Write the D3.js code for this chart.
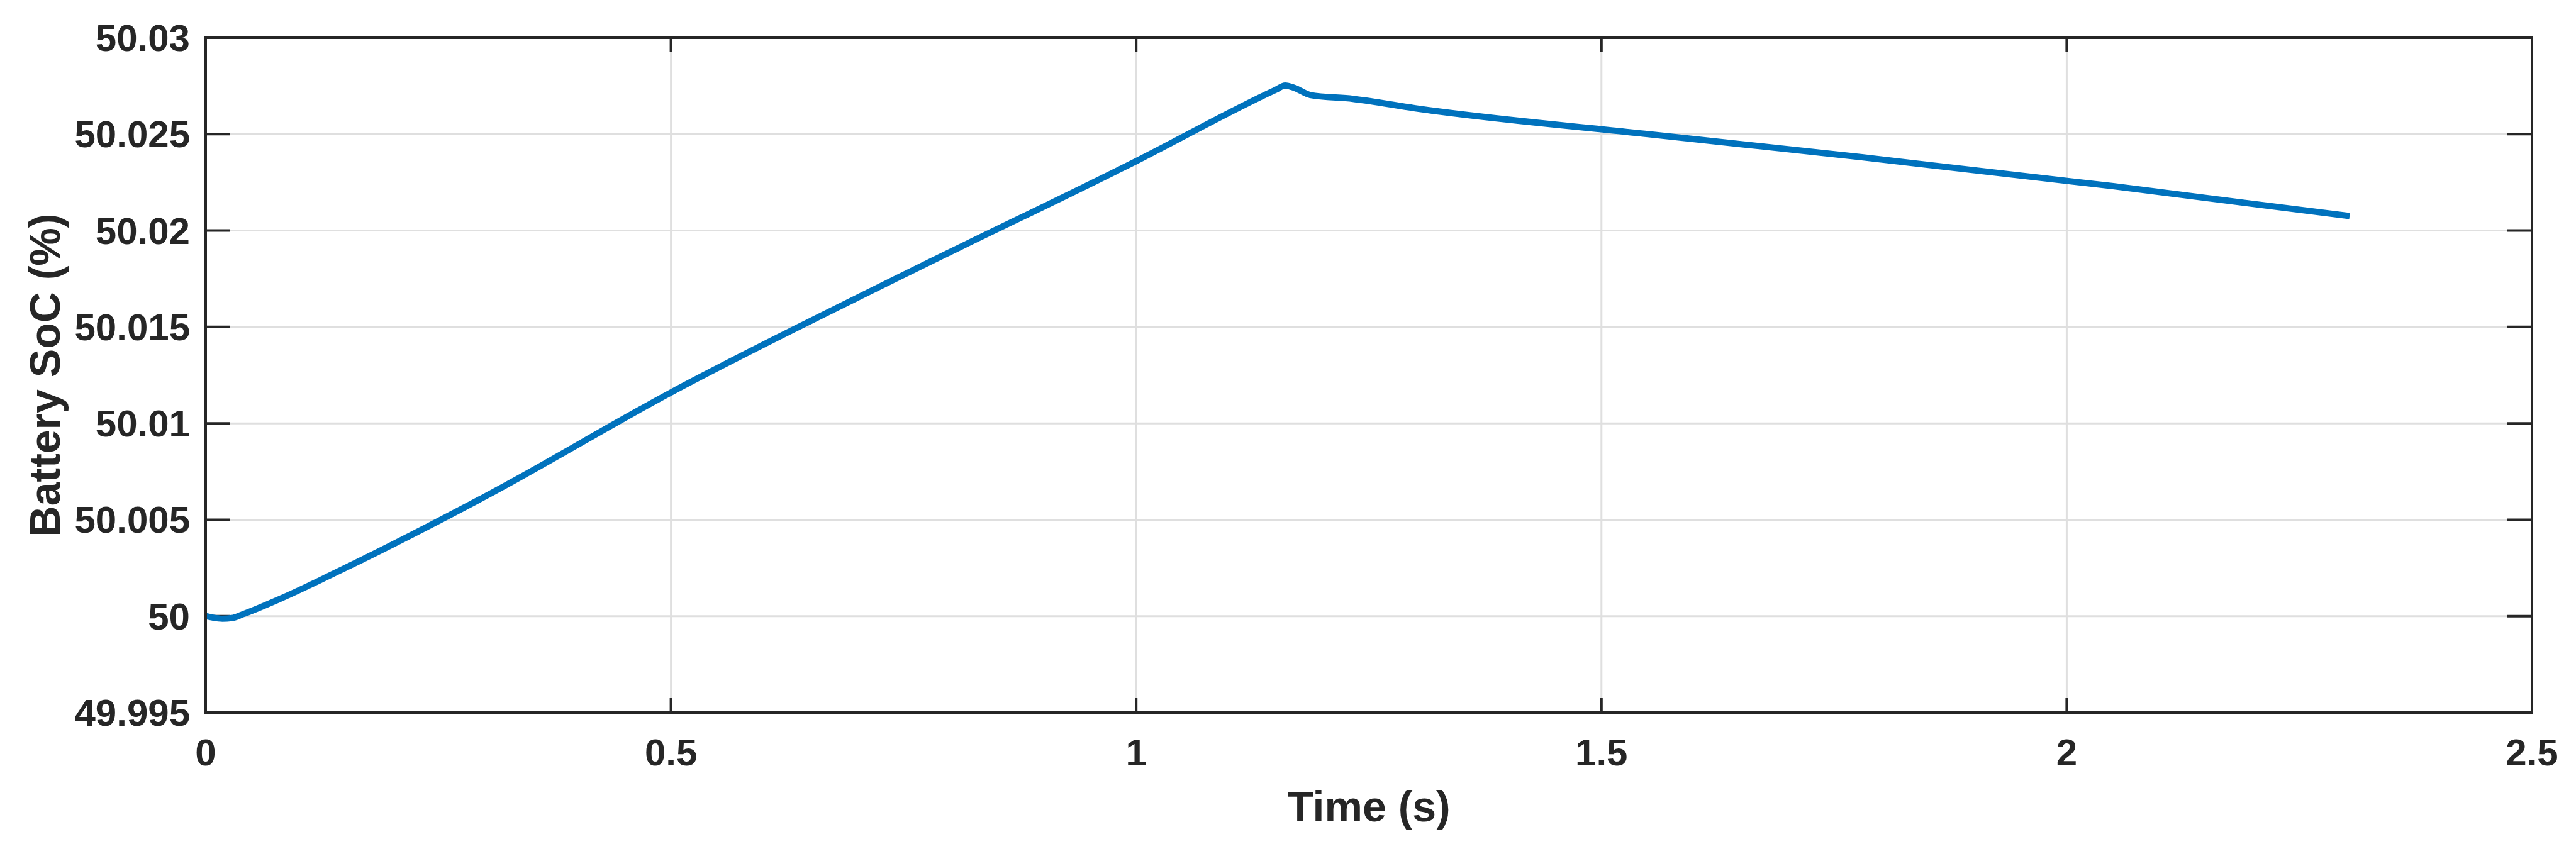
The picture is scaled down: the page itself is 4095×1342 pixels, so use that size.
<!DOCTYPE html>
<html>
<head>
<meta charset="utf-8">
<script src="https://cdn.jsdelivr.net/npm/d3@7"></script>
<style>
  body { margin: 0; background: #fff; }
  text { font-family: "Liberation Sans", Arial, sans-serif; font-weight: bold; fill: #262626; }
</style>
</head>
<body>
<script>
// data
var timeS = [0, 0.008, 0.018, 0.028, 0.04, 0.08, 0.15, 0.3, 0.5, 0.75, 1.0, 1.15, 1.16, 1.17, 1.187, 1.233, 1.3, 1.55, 1.78, 2.05, 2.304];
var socPct = [50.0000, 49.99992, 49.99987, 49.99990, 50.0001, 50.0009, 50.0025, 50.0062, 50.0116, 50.0177, 50.0236, 50.0273, 50.02752, 50.02740, 50.02703, 50.02683, 50.02634, 50.0250, 50.0238, 50.0223, 50.02075];
var xTicks = [0, 0.5, 1, 1.5, 2, 2.5];
var yTicks = [49.995, 50, 50.005, 50.01, 50.015, 50.02, 50.025, 50.03];

var width = 4095;
var height = 1342;
var pLeft = 327, pRight = 4025, pTop = 60, pBottom = 1133;

var svg = d3.select("body").append("svg")
    .attr("width", width)
    .attr("height", height);

var x = d3.scaleLinear().domain([0, 2.5]).range([pLeft, pRight]);
var y = d3.scaleLinear().domain([49.995, 50.03]).range([pBottom, pTop]);

//grid
svg.selectAll(".gx").data(xTicks).enter().append("line")
    .attr("x1", d => x(d)).attr("x2", d => x(d))
    .attr("y1", pTop).attr("y2", pBottom)
    .attr("stroke", "#dfdfdf").attr("stroke-width", 3);
svg.selectAll(".gy").data(yTicks).enter().append("line")
    .attr("x1", pLeft).attr("x2", pRight)
    .attr("y1", d => y(d)).attr("y2", d => y(d))
    .attr("stroke", "#dfdfdf").attr("stroke-width", 3);

//ticks (inside, on all four sides)
var tk = svg.append("g").attr("stroke", "#262626").attr("stroke-width", 4);
xTicks.forEach(function(d){
    tk.append("line").attr("x1", x(d)).attr("x2", x(d)).attr("y1", pBottom).attr("y2", pBottom - 23);
    tk.append("line").attr("x1", x(d)).attr("x2", x(d)).attr("y1", pTop).attr("y2", pTop + 23);
});
yTicks.forEach(function(d){
    tk.append("line").attr("x1", pLeft).attr("x2", pLeft + 39).attr("y1", y(d)).attr("y2", y(d));
    tk.append("line").attr("x1", pRight).attr("x2", pRight - 39).attr("y1", y(d)).attr("y2", y(d));
});

//data line
var line = d3.line().x((d, i) => x(timeS[i])).y(d => y(d)).curve(d3.curveMonotoneX);
svg.append("path")
    .attr("d", line(socPct))
    .attr("fill", "none")
    .attr("stroke", "#0072BD")
    .attr("stroke-width", 10)
    .attr("stroke-linejoin", "round");

//box
svg.append("rect")
    .attr("x", pLeft).attr("y", pTop)
    .attr("width", pRight - pLeft).attr("height", pBottom - pTop)
    .attr("fill", "none").attr("stroke", "#262626").attr("stroke-width", 4);

//tick labels
svg.selectAll(".xl").data(xTicks).enter().append("text")
    .attr("x", d => x(d)).attr("y", 1217)
    .attr("text-anchor", "middle")
    .style("font-size", "60px")
    .text(d => d);
svg.selectAll(".yl").data(yTicks).enter().append("text")
    .attr("x", 302).attr("y", d => y(d) + 21)
    .attr("text-anchor", "end")
    .style("font-size", "60px")
    .text(d => d);

//axis titles
svg.append("text")
    .attr("x", (pLeft + pRight) / 2).attr("y", 1306)
    .attr("text-anchor", "middle")
    .style("font-size", "68px")
    .text("Time (s)");
svg.append("text")
    .attr("transform", "translate(95," + (pTop + pBottom) / 2 + ") rotate(-90)")
    .attr("text-anchor", "middle")
    .style("font-size", "68px")
    .text("Battery SoC (%)");
</script>
</body>
</html>
